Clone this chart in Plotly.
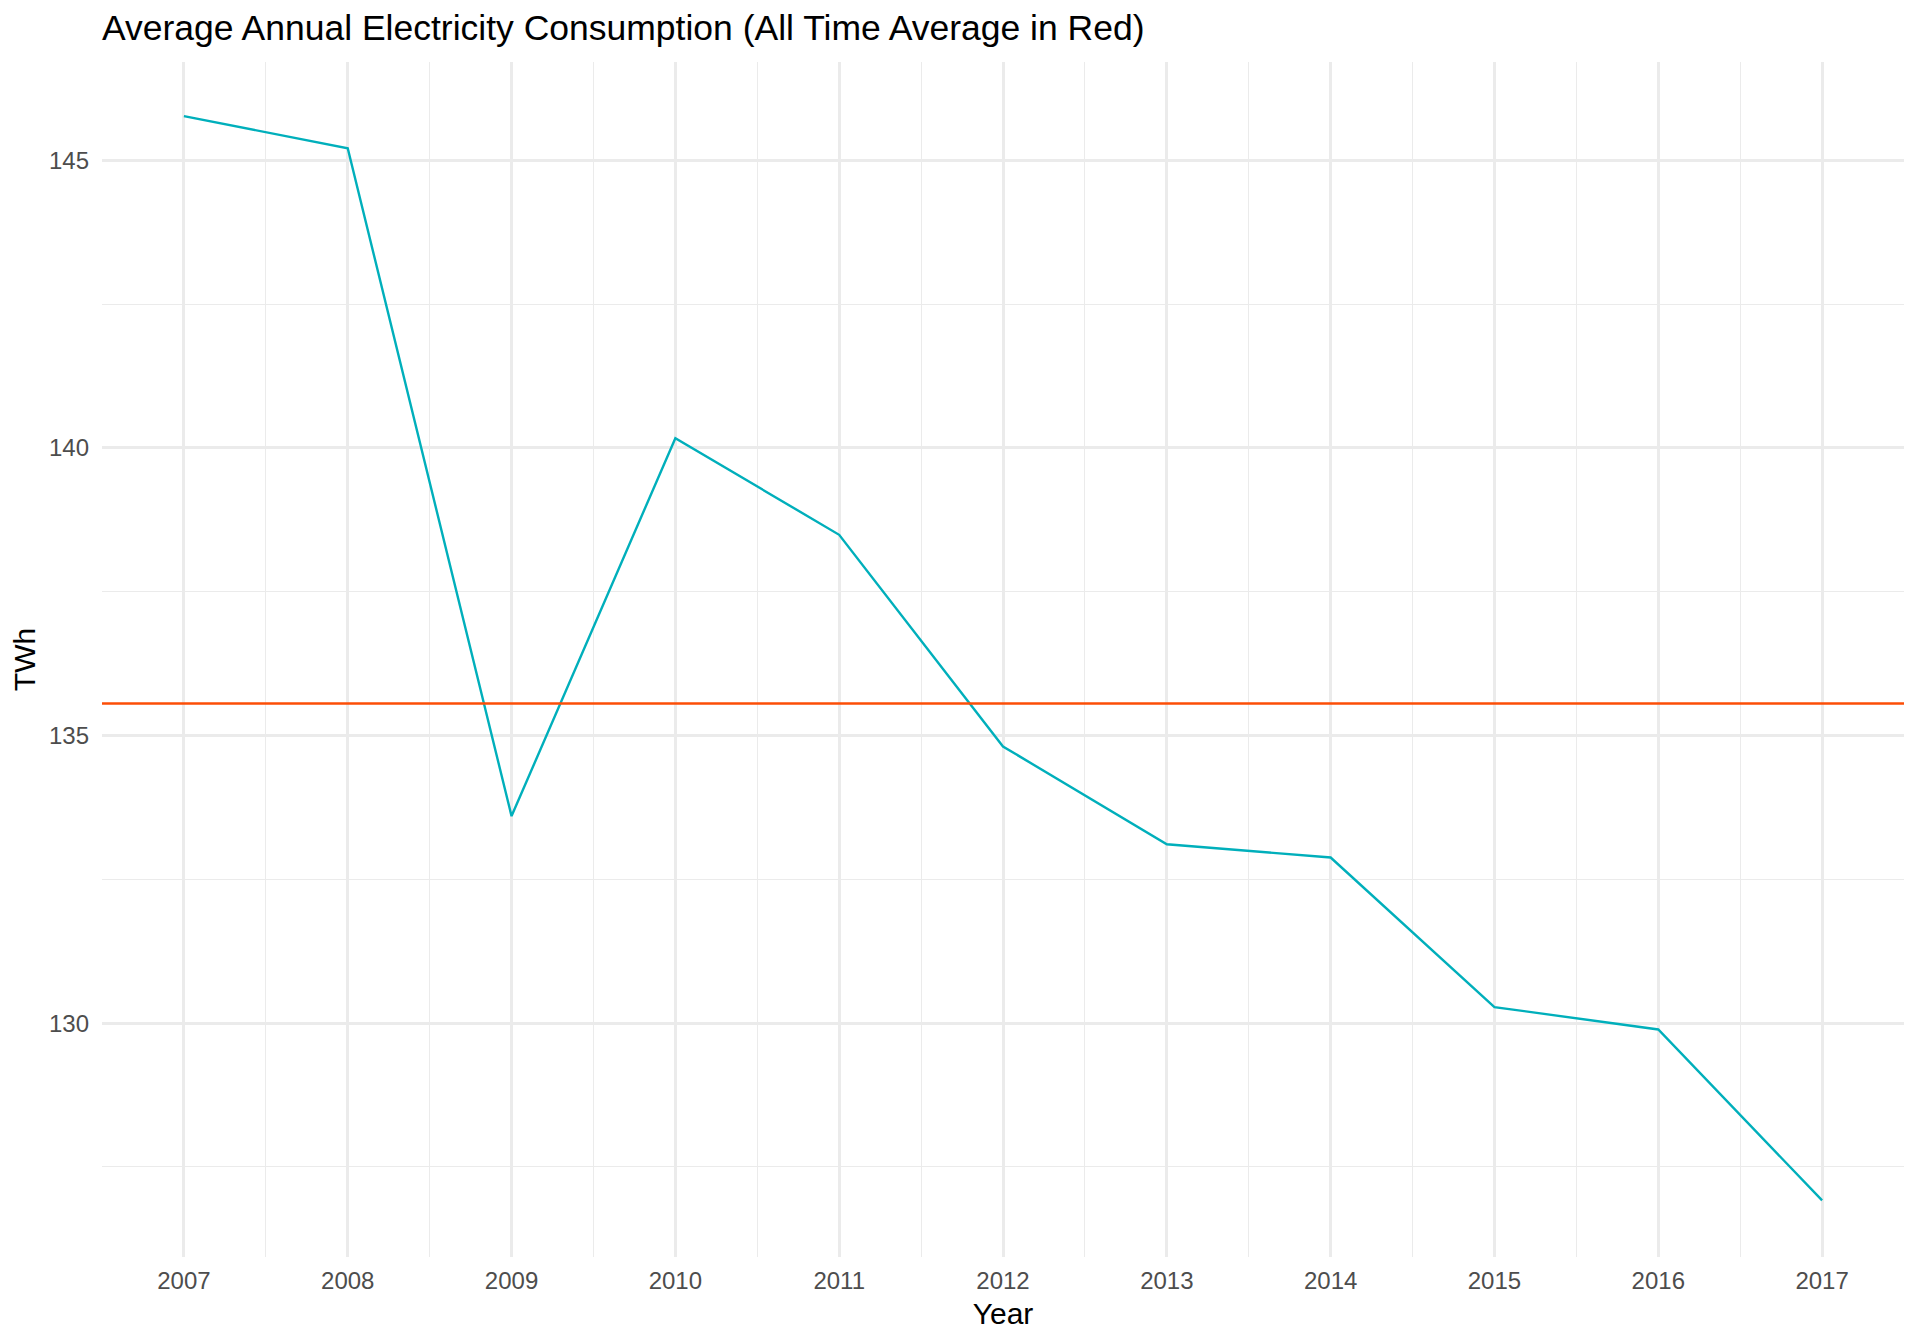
import plotly.graph_objects as go

years = [2007, 2008, 2009, 2010, 2011, 2012, 2013, 2014, 2015, 2016, 2017]
twh = [145.77, 145.21, 133.60, 140.17, 138.49, 134.81, 133.11, 132.88, 130.28, 129.89, 126.92]
avg_twh = sum(twh) / len(twh)

title_text = "Average Annual Electricity Consumption (All Time Average in Red)"
x_title = "Year"
y_title = "TWh"

FONT = "Liberation Sans, Arial, Helvetica, sans-serif"
GRID = "#EBEBEB"

fig = go.Figure()
fig.add_trace(go.Scatter(x=years, y=twh, mode="lines",
                         line=dict(color="#00AFBB", width=2.4),
                         showlegend=False, hoverinfo="x+y"))
fig.add_hline(y=avg_twh, line=dict(color="#FC4E07", width=2.4), layer="above")

fig.update_layout(
    width=1912, height=1336, autosize=False,
    paper_bgcolor="white", plot_bgcolor="white",
    margin=dict(l=94, r=16, t=54, b=87, pad=0, autoexpand=False),
    font=dict(family=FONT, color="black"),
    title=dict(text=title_text, x=0, xref="paper", xanchor="left",
               y=1 - 19.5 / 1336, yref="container", yanchor="middle",
               font=dict(size=35.5, color="black", family=FONT)),
    showlegend=False,
)
fig.update_xaxes(
    range=[2006.5, 2017.5], tickmode="array", tickvals=years,
    ticktext=[str(y) for y in years],
    showgrid=True, gridcolor=GRID, gridwidth=2.5,
    minor=dict(tickmode="array", tickvals=[y - 0.5 for y in years] + [2017.5],
               showgrid=True, gridcolor=GRID, gridwidth=1.2),
    zeroline=False, showline=False, ticks="", automargin=False,
    ticklabelstandoff=7,
    tickfont=dict(size=24, color="#4D4D4D", family=FONT),
    title=dict(text=x_title, font=dict(size=30, color="black", family=FONT), standoff=9),
)
fig.update_yaxes(
    range=[125.935, 146.71], tickmode="array", tickvals=[130, 135, 140, 145],
    showgrid=True, gridcolor=GRID, gridwidth=2.5,
    minor=dict(tickmode="array", tickvals=[127.5, 132.5, 137.5, 142.5],
               showgrid=True, gridcolor=GRID, gridwidth=1.2),
    zeroline=False, showline=False, ticks="", automargin=False,
    ticklabelstandoff=12,
    tickfont=dict(size=24, color="#4D4D4D", family=FONT),
    title=dict(text=y_title, font=dict(size=30, color="black", family=FONT), standoff=8),
)

fig.write_html("out.html")
